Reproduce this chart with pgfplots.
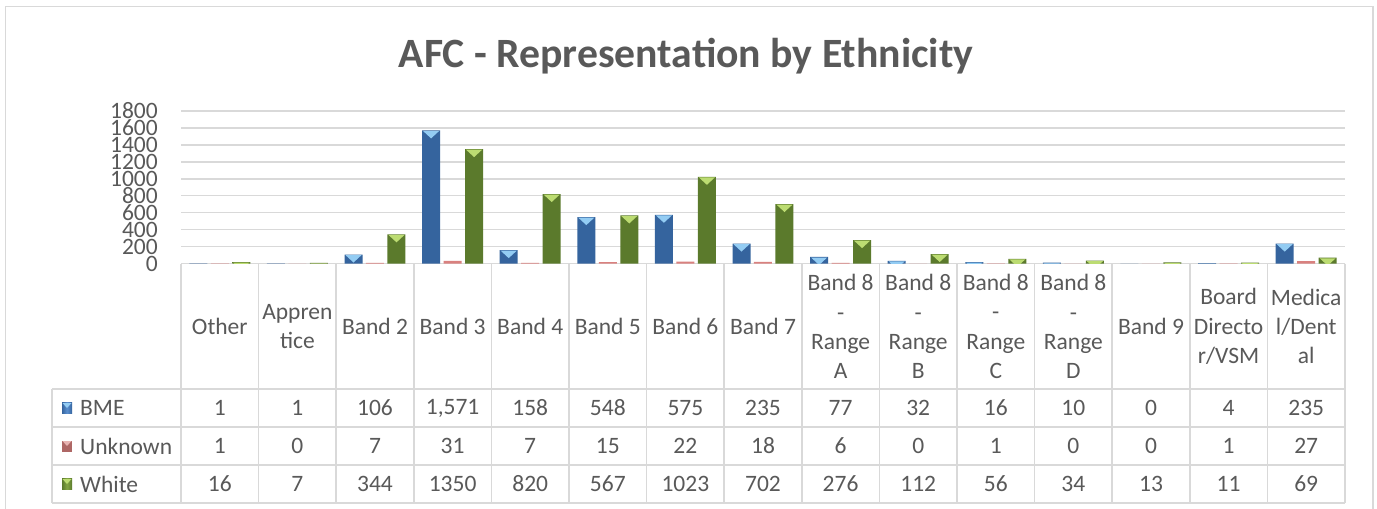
\documentclass[border=0pt]{standalone}
\usepackage{fontspec}
\setmainfont{Carlito}
\usepackage{pgfplots}
\usepackage{pgfplotstable}
\pgfplotsset{compat=1.18}
\pgfkeys{/pgf/number format/assume math mode=true}

\definecolor{txtgray}{HTML}{595959}
\definecolor{gridgray}{HTML}{D9D9D9}
\definecolor{bmeDark}{HTML}{35649E}
\definecolor{bmeMid}{HTML}{5B90D0}
\definecolor{bmeLight}{HTML}{93CCF3}
\definecolor{wDark}{HTML}{5B7A2C}
\definecolor{wMid}{HTML}{84A645}
\definecolor{wLight}{HTML}{BCDC72}
\definecolor{uRed}{HTML}{D9817F}

% bevelled top of a bar: a light inverted triangle
\pgfdeclareplotmark{bevel}{%
  \pgfpathmoveto{\pgfqpoint{-8pt}{-0.6pt}}%
  \pgfpathlineto{\pgfqpoint{8pt}{-0.6pt}}%
  \pgfpathlineto{\pgfqpoint{0pt}{-8pt}}%
  \pgfpathclose
  \pgfusepathqfill}

% staff counts per pay band
\pgfplotstableread{
idx bme unk white
0   1    1   16
1   1    0   7
2   106  7   344
3   1571 31  1350
4   158  7   820
5   548  15  567
6   575  22  1023
7   235  18  702
8   77   6   276
9   32   0   112
10  16   1   56
11  10   0   34
12  0    0   13
13  4    1   11
14  235  27  69
}\data

\begin{document}
\begin{tikzpicture}[x=1pt,y=1pt]
\useasboundingbox (0,0) rectangle (1377,-509);
\clip (0,0) rectangle (1377,-509);
\fill[white] (0,0) rectangle (1377,-509);
% chart frame
\draw[gridgray, line width=1.5pt] (5.5,-6.5) rectangle (1373,-530);

\node[font=\fontsize{41.7}{50}\selectfont\bfseries, text=txtgray, anchor=base]
  at (686,-67) {AFC - Representation by Ethnicity};

\begin{axis}[
  at={(181pt,-263.5pt)}, anchor=south west,
  scale only axis, width=1164pt, height=152.5pt,
  xmin=-0.5, xmax=14.5, ymin=0, ymax=1800,
  xtick=\empty,
  ytick={0,200,...,1800},
  axis line style={draw=none},
  major tick length=0pt,
  ymajorgrids, grid style={gridgray, line width=1.5pt},
  /pgf/number format/1000 sep={},
  yticklabel style={font=\fontsize{23.5}{24}\selectfont, text=txtgray,
    anchor=east, inner sep=0pt, xshift=-23pt},
  clip marker paths=true,
]
\addplot[ybar, bar width=18pt, bar shift=0pt, draw=none,
  left color=bmeDark, middle color=bmeMid, right color=bmeDark]
  table[x expr=\thisrow{idx}-0.277, y=bme] {\data};
\addplot[ybar, bar width=18pt, bar shift=0pt, draw=none, fill=uRed]
  table[x=idx, y=unk] {\data};
\addplot[ybar, bar width=18pt, bar shift=0pt, draw=none,
  left color=wDark, middle color=wMid, right color=wDark]
  table[x expr=\thisrow{idx}+0.277, y=white] {\data};
\addplot[only marks, mark=bevel, color=bmeLight, mark options={fill=bmeLight}]
  table[x expr=\thisrow{idx}-0.277, y=bme] {\data};
\addplot[only marks, mark=bevel, color=wLight, mark options={fill=wLight}]
  table[x expr=\thisrow{idx}+0.277, y=white] {\data};
\end{axis}

% data table below the plot
\begin{scope}[gridgray, line width=1.5pt]
  \foreach \k in {0,...,15}
    \draw ({181+77.6*\k},-263.5) -- ({181+77.6*\k},-503);
  \draw (52,-389) -- (52,-503);
  \foreach \yy in {389,427,465,503}
    \draw (52,-\yy) -- (1345,-\yy);
\end{scope}

\begin{scope}[every node/.style={font=\fontsize{23.5}{29.3}\selectfont, text=txtgray,
    align=center, inner sep=0pt}]
  \foreach \i/\lab in {0/Other, 1/{Appren\\tice}, 2/Band 2, 3/Band 3, 4/Band 4,
      5/Band 5, 6/Band 6, 7/Band 7, 8/{Band 8\\-\\Range\\A}, 9/{Band 8\\-\\Range\\B},
      10/{Band 8\\-\\Range\\C}, 11/{Band 8\\-\\Range\\D}, 12/Band 9,
      13/{Board\\Directo\\r/VSM}, 14/{Medica\\l/Dent\\al}}
    \node at ({181+77.6*(\i+0.5)},-326.5) {\lab};
  \foreach \i in {0,...,14} {
    \pgfplotstablegetelem{\i}{bme}\of\data
    \node at ({181+77.6*(\i+0.5)},-408) {\pgfmathprintnumber[1000 sep={,}]{\pgfplotsretval}};
    \pgfplotstablegetelem{\i}{unk}\of\data
    \node at ({181+77.6*(\i+0.5)},-446) {\pgfmathprintnumber[1000 sep={}]{\pgfplotsretval}};
    \pgfplotstablegetelem{\i}{white}\of\data
    \node at ({181+77.6*(\i+0.5)},-484) {\pgfmathprintnumber[1000 sep={}]{\pgfplotsretval}};
  }
  \node[anchor=west] at (80,-408) {BME};
  \node[anchor=west] at (80,-446) {Unknown};
  \node[anchor=west] at (80,-484) {White};
\end{scope}

% legend keys
\fill[left color=bmeDark, right color=bmeDark, middle color=bmeMid] (62,-402.5) rectangle (72,-413.5);
\fill[bmeLight] (62.5,-403) -- (71.5,-403) -- (67,-408) -- cycle;
\fill[uRed!80!black] (62,-440.5) rectangle (72,-451.5);
\fill[uRed!60!white] (62.5,-441) -- (71.5,-441) -- (67,-446) -- cycle;
\fill[left color=wDark, right color=wDark, middle color=wMid] (62,-478.5) rectangle (72,-489.5);
\fill[wLight] (62.5,-479) -- (71.5,-479) -- (67,-484) -- cycle;
\end{tikzpicture}
\end{document}
